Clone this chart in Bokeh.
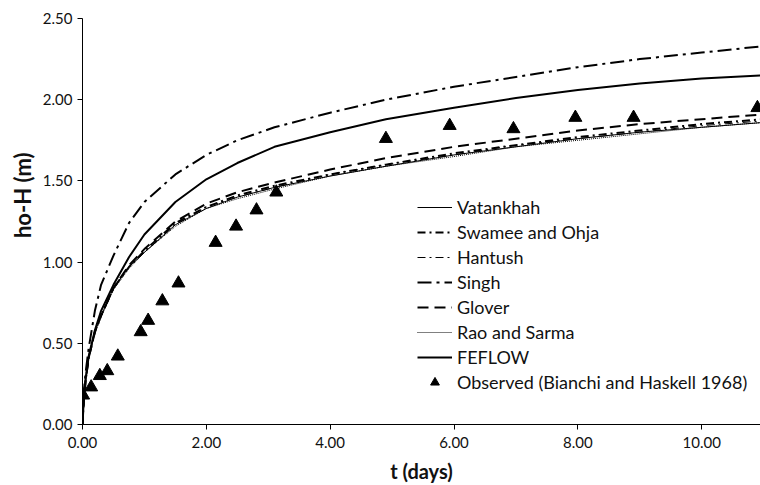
from bokeh.plotting import figure
from bokeh.models import Range1d, Legend, LegendItem, FixedTicker, NumeralTickFormatter, Title
from bokeh.embed import file_html
from bokeh.resources import INLINE

# ---- data ----
t = [0, 0.02, 0.05, 0.1, 0.2, 0.3, 0.5, 0.75, 1.0, 1.5, 2.0, 2.5, 3.1, 4.0, 4.9, 6.0, 7.0, 8.0, 9.0, 10.0, 11.0]

feflow = [0, 0.15, 0.28, 0.42, 0.58, 0.70, 0.86, 1.03, 1.17, 1.37, 1.51, 1.61, 1.71, 1.80, 1.88, 1.95, 2.01, 2.06, 2.10, 2.13, 2.15]
singh = [0, 0.20, 0.32, 0.47, 0.70, 0.86, 1.04, 1.24, 1.37, 1.54, 1.66, 1.75, 1.83, 1.92, 2.00, 2.08, 2.14, 2.20, 2.25, 2.29, 2.33]
glover = [0, 0.14, 0.27, 0.41, 0.57, 0.67, 0.84, 0.98, 1.08, 1.25, 1.36, 1.43, 1.49, 1.57, 1.64, 1.71, 1.76, 1.81, 1.85, 1.88, 1.91]
vatankhah = [0, 0.14, 0.27, 0.41, 0.57, 0.67, 0.84, 0.97, 1.06, 1.23, 1.33, 1.40, 1.46, 1.53, 1.59, 1.66, 1.71, 1.76, 1.80, 1.83, 1.86]
swamee = [0, 0.14, 0.27, 0.41, 0.57, 0.67, 0.84, 0.97, 1.07, 1.24, 1.34, 1.41, 1.47, 1.54, 1.60, 1.67, 1.72, 1.77, 1.81, 1.85, 1.88]
hantush = [0, 0.14, 0.27, 0.41, 0.57, 0.67, 0.84, 0.97, 1.06, 1.23, 1.34, 1.40, 1.46, 1.54, 1.60, 1.66, 1.72, 1.76, 1.80, 1.84, 1.87]
rao = [0, 0.14, 0.27, 0.41, 0.56, 0.66, 0.83, 0.96, 1.06, 1.22, 1.33, 1.39, 1.45, 1.53, 1.59, 1.65, 1.71, 1.75, 1.79, 1.83, 1.86]

obs_t = [0.01, 0.14, 0.28, 0.40, 0.57, 0.94, 1.06, 1.29, 1.55, 2.15, 2.48, 2.81, 3.13, 4.90, 5.93, 6.96, 7.96, 8.90, 10.90]
obs_h = [0.18, 0.23, 0.30, 0.33, 0.42, 0.57, 0.64, 0.76, 0.87, 1.12, 1.22, 1.32, 1.43, 1.76, 1.84, 1.82, 1.89, 1.89, 1.95]

x_ticks = [0, 2, 4, 6, 8, 10]
y_ticks = [0, 0.5, 1.0, 1.5, 2.0, 2.5]

FONT = "Lato"

p = figure(width=760, height=485, output_backend="svg", toolbar_location=None,
           x_range=Range1d(0, 10.95), y_range=Range1d(0, 2.5),
           min_border_left=82, min_border_right=0, min_border_top=18, min_border_bottom=60)
p.outline_line_color = None
p.xgrid.visible = False
p.ygrid.visible = False
p.background_fill_color = "white"
p.border_fill_color = "white"

r_vat = p.line(t, vatankhah, line_color="black", line_width=1)
r_swa = p.line(t, swamee, line_color="black", line_width=2, line_dash="8 4 2 4")
r_han = p.line(t, hantush, line_color="black", line_width=1, line_dash="8 4 2 4")
r_sin = p.line(t, singh, line_color="black", line_width=2, line_dash="14 5 3 5")
r_glo = p.line(t, glover, line_color="black", line_width=2, line_dash="11 6")
r_rao = p.line(t, rao, line_color="black", line_width=1, line_dash="1 1")
r_fef = p.line(t, feflow, line_color="black", line_width=2)
r_obs = p.scatter(obs_t, obs_h, marker="triangle", size=13, fill_color="black", line_color="black")

for ax, ticks in ((p.xaxis[0], x_ticks), (p.yaxis[0], y_ticks)):
    ax.ticker = FixedTicker(ticks=ticks)
    ax.formatter = NumeralTickFormatter(format="0.00")
    ax.minor_tick_line_color = None
    ax.major_tick_in = 0
    ax.major_tick_out = 5
    ax.axis_line_color = "black"
    ax.major_tick_line_color = "black"
    ax.major_label_text_font = FONT
    ax.major_label_text_font_size = "15px"
    ax.major_label_text_color = "#111111"
    ax.axis_label_text_font = FONT
    ax.axis_label_text_font_style = "bold"
    ax.axis_label_text_color = "#111111"
    ax.axis_label_text_font_size = "20px"

p.xaxis.axis_label = "t (days)"
p.xaxis.major_label_standoff = 7
p.yaxis.major_label_standoff = 5
p.xaxis.axis_label_standoff = 8

# y-axis title as a side title so it can be shifted upward like the reference
ytitle = Title(text="ho-H (m)", align="right", offset=134, standoff=8,
               text_font=FONT, text_font_style="bold", text_font_size="22px",
               text_color="#111111")
p.add_layout(ytitle, "left")

legend = Legend(items=[
    LegendItem(label="Vatankhah", renderers=[r_vat]),
    LegendItem(label="Swamee and Ohja", renderers=[r_swa]),
    LegendItem(label="Hantush", renderers=[r_han]),
    LegendItem(label="Singh", renderers=[r_sin]),
    LegendItem(label="Glover", renderers=[r_glo]),
    LegendItem(label="Rao and Sarma", renderers=[r_rao]),
    LegendItem(label="FEFLOW", renderers=[r_fef]),
    LegendItem(label="Observed (Bianchi and Haskell 1968)", renderers=[r_obs]),
], location=(335, 31))
legend.border_line_color = None
legend.background_fill_alpha = 0
legend.padding = 0
legend.margin = 0
legend.glyph_width = 35
legend.glyph_height = 22
legend.label_height = 22
legend.spacing = 3
legend.label_standoff = 5
legend.label_text_font = FONT
legend.label_text_font_size = "18px"
legend.label_text_color = "#111111"
p.add_layout(legend, "center")

open("out.html", "w").write(file_html(p, INLINE))
